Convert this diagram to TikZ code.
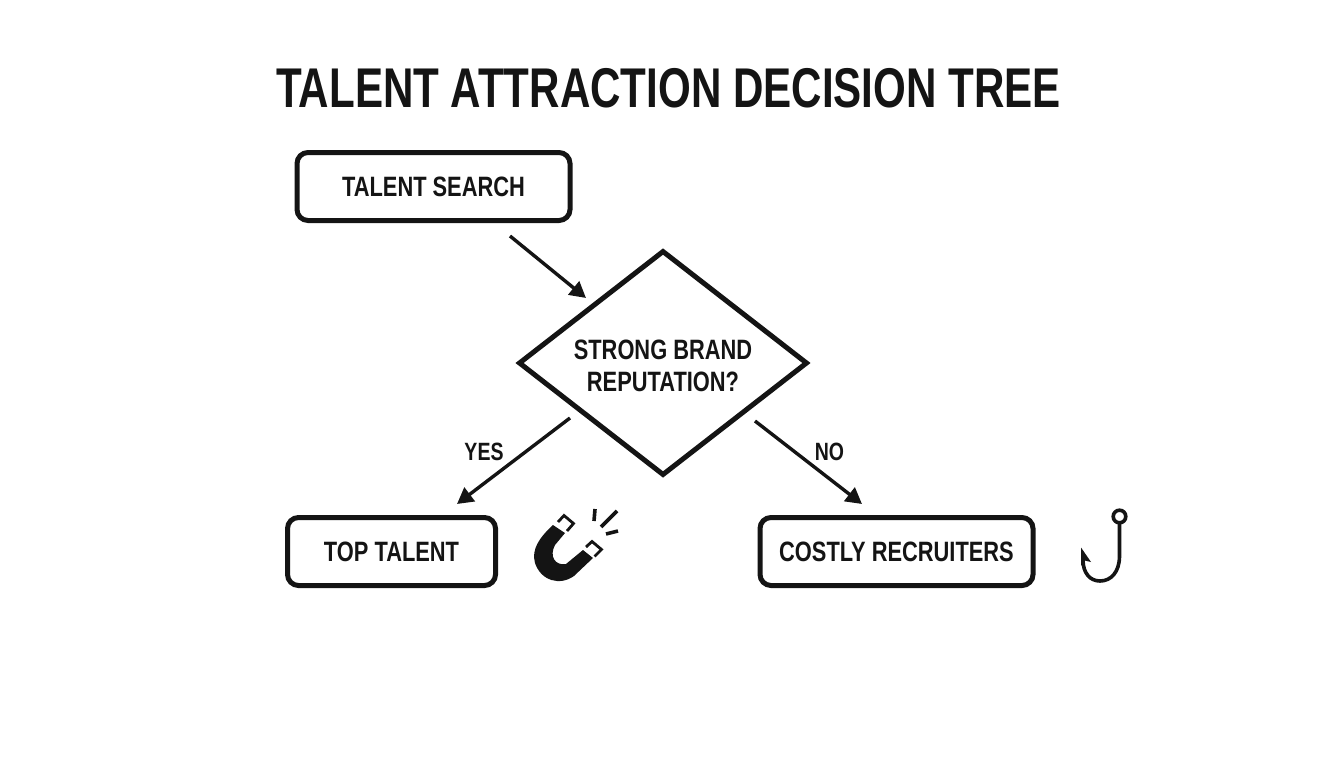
\documentclass[tikz,border=0pt]{standalone}
\usepackage{fontspec}
\setmainfont{Liberation Sans}[FakeStretch=0.78]
\newfontfamily\titlefont{Liberation Sans}[FakeStretch=0.752]
\usetikzlibrary{shapes.geometric,arrows.meta}
\definecolor{ink}{HTML}{141414}
\tikzset{
  box/.style={draw=ink,line width=5pt,rounded corners=11pt,inner sep=0pt,fill=white,text=ink,font=\bfseries\fontsize{28}{32}\selectfont},
  dec/.style={draw=ink,line width=5pt,diamond,aspect=1.29,minimum width=289pt,minimum height=225pt,inner sep=0pt},
  lab/.style={text=ink,font=\bfseries\fontsize{28}{34}\selectfont,align=center,inner sep=0pt},
  small/.style={text=ink,font=\bfseries\fontsize{25}{30}\selectfont,inner sep=0pt},
  conn/.style={draw=ink,line width=3.4pt,-{Triangle[length=16pt,width=17pt]}},
  icon/.style={draw=ink,line width=3.6pt},
  spark/.style={draw=ink,line width=3.6pt},
  magcap/.style={draw=ink,line width=2.8pt}
}
\begin{document}
\begin{tikzpicture}[x=1pt,y=-1pt]
\useasboundingbox (0,0) rectangle (1344,768);
\node[text=ink,inner sep=0pt,font=\titlefont\bfseries\fontsize{56}{60}\selectfont] (title) at (668.5,88) {TALENT ATTRACTION DECISION TREE};
\node[box,minimum width=273pt,minimum height=68pt] (search) at (433.5,186.5) {TALENT SEARCH};
\node[dec] (q) at (663,363) {};
\node[lab] (qt) at (663,365.5) {STRONG BRAND\\[-2pt]REPUTATION?};
\node[box,minimum width=208pt,minimum height=68pt] (top) at (391.5,551.5) {TOP TALENT};
\node[box,minimum width=273pt,minimum height=68pt] (cost) at (896.5,551.5) {COSTLY RECRUITERS};
\node[small] (yes) at (484,452) {YES};
\node[small] (no) at (829.5,452) {NO};
\coordinate (s1) at (510,236); \coordinate (s2) at (586,298);
\coordinate (y1) at (570,418); \coordinate (y2) at (457,504);
\coordinate (n1) at (755,421); \coordinate (n2) at (862,504);
\draw[conn] (s1) -- (s2);
\draw[conn] (y1) -- (y2);
\draw[conn] (n1) -- (n2);
% magnet
\fill[ink] (553,525) -- (565,533) -- (555,545) .. controls (549,556) and (555,566) .. (566,564) -- (583,550) -- (593,558) -- (574,576) .. controls (560,586) and (541,581) .. (535,563) .. controls (531,549) and (540,537) .. (553,525) -- cycle;
\draw[magcap] (558,522) -- (564,515.5) -- (573.5,523.5) -- (567,531);
\draw[magcap] (586,547) -- (592,541.5) -- (601.5,549.5) -- (594.5,556.5);
\draw[spark] (595,509) -- (594,521);
\draw[spark] (617,511) -- (601,527);
\draw[spark] (606,534) -- (618,531);
% hook
\draw[icon,fill=white] (1119.5,516.5) circle (6.3pt);
\draw[icon] (1119.5,523) -- (1119.5,556) .. controls (1119.5,572) and (1111,581) .. (1100,581) .. controls (1090,581) and (1083,573) .. (1083,560);
\fill[ink] (1081,547.5) -- (1091,562) -- (1084.5,560.5) -- (1081,566) -- cycle;
\end{tikzpicture}
\end{document}
